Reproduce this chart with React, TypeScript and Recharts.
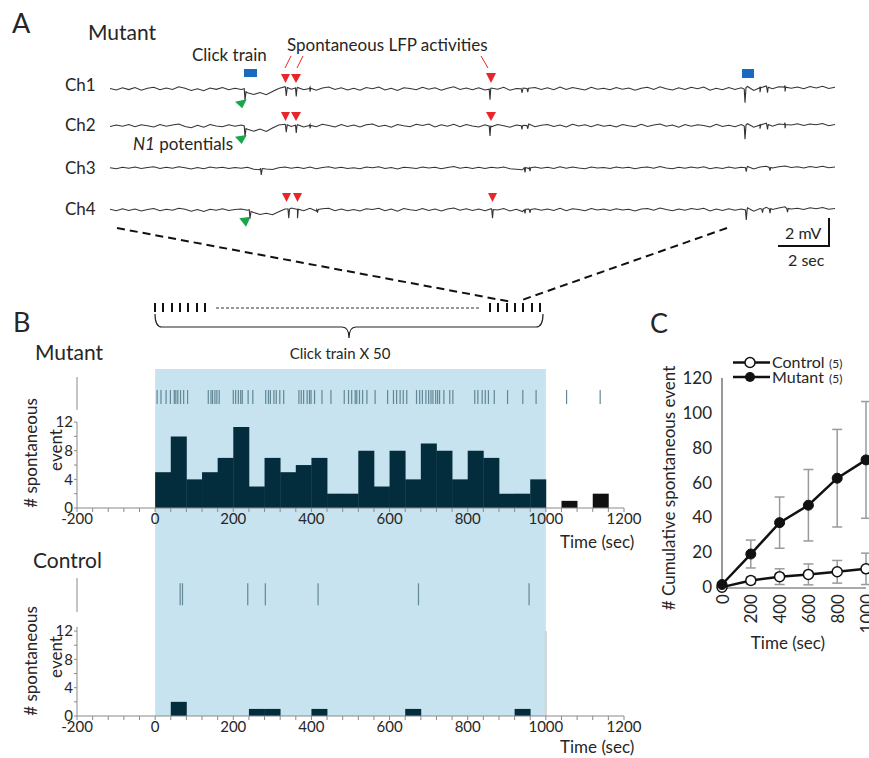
import React from 'react';
import {
  ComposedChart,
  LineChart,
  Line,
  Bar,
  Scatter,
  XAxis,
  YAxis,
  ReferenceArea,
  ReferenceLine,
  ErrorBar,
} from 'recharts';

const FONT = 'Lato, "Open Sans", sans-serif';
const TXT = '#262626';

// ---------------- Panel A : LFP traces (units: 0.01 mV, time in sec) ----------------
const traceStep = 0.25;
const ch1Base = [
  4, -8, 10, -5, 12, -10, 6, 14, -6, 8,
  -4, 18, 6, -12, 2, -14, 8, -3, 12, -6,
  6, -4, -30, -44, -28, -46, -20, 4, 18, -2,
  12, -6, 14, -10, 8, 16, -4, 10, -8, 6,
  -10, 12, 2, 16, -8, 6, -12, 10, 4, -6,
  14, -2, 10, -10, 6, 18, -4, 8, -6, 10,
  -8, 8, -2, 14, -10, 4, -14, 6, 12, -4,
  10, -6, 16, -4, 12, 2, -8, 14, -2, 6,
  -6, 12, -2, 8, -10, 6, 14, -4, 18, 2,
  -8, 10, -4, 14, 2, 16, -10, 6, -6, 12,
  -4, 10, 20, -12, 14, 24, 2, 18, 28, 6,
  16, 2, 20, 8, 22, 4, 14,
];
const ch2Base = [
  -4, 8, -2, 12, -6, 10, 2, -8, 12, -2,
  8, 16, -4, -14, 6, -10, 12, 0, -6, 10,
  -2, 8, -26, -42, -24, -44, -16, 8, 14, -4,
  10, -8, 12, -6, 14, 4, -8, 12, -4, 8,
  -8, 10, 16, -4, 6, -10, 12, 2, -6, 14,
  4, 16, -8, 10, -2, 14, -6, 12, 0, -8,
  10, -6, 12, 2, -10, 8, -4, 16, -6, 6,
  12, -4, 8, -8, 14, 0, 10, -6, 12, -2,
  6, -8, 12, 2, -6, 14, -4, 8, 16, -2,
  8, -10, 12, -2, 10, 4, -8, 14, -4, 6,
  -6, 12, 18, -10, 10, 22, -2, 16, 26, 8,
  18, 4, 16, 10, 20, 2, 12,
];
const ch3Base = [
  2, -6, 6, -2, 8, -4, 4, 10, -4, 6,
  -2, 10, 2, -8, 4, -6, 8, 0, 6, -4,
  4, -2, 6, -10, -14, -8, -12, 2, 8, -2,
  6, -4, 8, -6, 4, 10, -2, 6, -4, 2,
  -6, 8, 2, 10, -4, 4, -8, 6, 2, -4,
  8, 0, 6, -6, 4, 12, -2, 6, -4, 6,
  -4, 6, 0, 8, -6, -10, -14, -4, 8, -2,
  6, -4, 10, -2, 8, 0, -6, 8, 0, 4,
  -4, 8, 0, 6, -6, 4, 8, -2, 12, 0,
  -6, 6, -2, 8, 0, 10, -6, 4, -4, 8,
  -2, 6, 12, -8, 8, 14, 0, 10, 16, 4,
  10, 0, 12, 4, 14, 2, 8,
];
const ch4Base = [
  6, -6, 10, -4, 8, -8, 4, 12, -6, 6,
  -2, 14, 6, -10, 4, -12, 6, -2, 10, -4,
  4, 8, -2, -20, -36, -26, -38, -14, 8, 16,
  6, -6, 14, -8, 10, 14, -6, 8, -6, 4,
  -8, 10, 4, 14, -6, 8, -10, 12, 2, -4,
  12, -4, 8, -8, 8, 16, -2, 10, -4, 8,
  -6, 10, 0, 12, -8, 6, -12, 8, 10, -2,
  8, -4, 14, -6, 10, 4, -6, 12, 0, 8,
  -4, 10, 0, 6, -8, 8, 12, -2, 16, 4,
  -6, 8, -2, 12, 4, 14, -8, 8, -4, 10,
  -2, 8, 18, -10, 12, 22, 4, 16, 26, 8,
  14, 4, 18, 10, 20, 6, 12,
];
const ch1Spikes: [number, number][] = [
  [5.37, 2], [5.4, -90], [5.44, -22],
  [7.02, 10], [7.05, -55], [7.09, 12],
  [7.42, 8], [7.45, -60], [7.48, 6],
  [7.97, 4], [8.0, -22], [8.03, 6],
  [15.17, -2], [15.2, -85], [15.23, 4],
  [16.45, 2], [16.48, -30], [16.52, 8], [16.68, 4], [16.71, -25], [16.74, 6],
  [25.37, 0], [25.4, -110], [25.44, 12],
  [25.97, 8], [26.0, -25], [26.03, 10],
  [26.27, 12], [26.3, -30], [26.33, 14],
  [26.97, 15], [27.0, -20], [27.03, 14],
];
const ch2Spikes: [number, number][] = [
  [5.37, 1], [5.4, -85], [5.44, -20],
  [7.02, 9], [7.05, -50], [7.09, 10],
  [7.42, 6], [7.45, -55], [7.48, 5],
  [7.97, 3], [8.0, -18], [8.03, 5],
  [15.17, -1], [15.2, -80], [15.23, 3],
  [16.45, 2], [16.48, -28], [16.52, 6], [16.68, 3], [16.71, -22], [16.74, 5],
  [25.37, 0], [25.4, -105], [25.44, 10],
  [25.97, 6], [26.0, -22], [26.03, 9],
  [26.27, 10], [26.3, -28], [26.33, 12],
  [26.97, 12], [27.0, -18], [27.03, 12],
];
const ch3Spikes: [number, number][] = [
  [6.02, -2], [6.05, -55], [6.09, -4],
  [16.57, 2], [16.6, -35], [16.63, 4], [16.77, 2], [16.8, -25], [16.83, 3],
  [25.42, 2], [25.45, -30], [25.48, 4],
  [26.37, 4], [26.4, -20], [26.43, 5],
];
const ch4Spikes: [number, number][] = [
  [5.57, 2], [5.6, -70], [5.64, -12],
  [7.12, 8], [7.15, -65], [7.18, 8],
  [7.47, 6], [7.5, -65], [7.53, 6],
  [8.27, 3], [8.3, -20], [8.33, 5],
  [15.27, 2], [15.3, -65], [15.33, 4],
  [16.57, 2], [16.6, -28], [16.63, 6], [16.77, 3], [16.8, -22], [16.83, 5],
  [25.42, 0], [25.45, -80], [25.49, 10],
  [26.07, 6], [26.1, -22], [26.13, 9],
  [26.37, 10], [26.4, -25], [26.43, 12],
  [27.07, 12], [27.1, -18], [27.13, 12],
];

function buildTrace(base: number[], spikes: [number, number][]) {
  const pts = base.map((v, i) => ({ t: i * traceStep, v }));
  spikes.forEach(([t, v]) => pts.push({ t, v }));
  pts.sort((a, b) => a.t - b.t);
  return pts;
}
const traces = [
  { name: 'Ch1', data: buildTrace(ch1Base, ch1Spikes), top: 79 },
  { name: 'Ch2', data: buildTrace(ch2Base, ch2Spikes), top: 116 },
  { name: 'Ch3', data: buildTrace(ch3Base, ch3Spikes), top: 158 },
  { name: 'Ch4', data: buildTrace(ch4Base, ch4Spikes), top: 200 },
];

// ---------------- Panel B : raster + histograms ----------------
const binCenters = [20, 60, 100, 140, 180, 220, 260, 300, 340, 380, 420, 460, 500, 540, 580, 620, 660, 700, 740, 780, 820, 860, 900, 940, 980];
const mutantCounts = [5, 10, 4, 5, 7, 11.3, 3, 7, 5, 6, 7, 2, 2, 8, 3, 8, 4, 9, 8, 4, 8, 7, 2, 2, 4];
const controlCounts = [0, 2, 0, 0, 0, 0, 1, 1, 0, 0, 1, 0, 0, 0, 0, 0, 1, 0, 0, 0, 0, 0, 0, 1, 0];
const postBinCenters = [1060, 1140];
const mutantPostCounts = [1, 2];
const mutantEvents = [5, 15, 28, 39, 49, 53, 58, 65, 73, 83, 136, 143, 147, 153, 158, 164, 200, 206, 213, 219, 223, 238, 250, 283, 290, 295, 304, 310, 319, 329, 368, 374, 380, 389, 395, 399, 408, 427, 450, 484, 495, 503, 512, 516, 523, 531, 542, 563, 595, 610, 618, 627, 635, 644, 669, 677, 684, 693, 700, 706, 711, 718, 723, 728, 739, 754, 762, 818, 826, 837, 845, 853, 868, 902, 941, 975, 1053, 1139];
const controlEvents = [64, 70, 237, 282, 417, 674, 957];
const stimWindow = [0, 1000];
const histXTicks = [-200, -160, -120, -80, -40, 0, 40, 80, 120, 160, 200, 240, 280, 320, 360, 400, 440, 480, 520, 560, 600, 640, 680, 720, 760, 800, 840, 880, 920, 960, 1000, 1040, 1080, 1120, 1160, 1200];
const histYTicks = [0, 2, 4, 6, 8, 10, 12];

const mutantHist = [
  ...binCenters.map((x, i) => ({ x, during: mutantCounts[i], post: 0 })),
  ...postBinCenters.map((x, i) => ({ x, during: 0, post: mutantPostCounts[i] })),
];
const controlHist = binCenters.map((x, i) => ({ x, during: controlCounts[i], post: 0 }));
const mutantRaster = mutantEvents.map((x) => ({ x, y: 15.5 }));
const controlRaster = controlEvents.map((x) => ({ x, y: 17.2 }));
const stimData = [
  { x: stimWindow[0], y: 0 },
  { x: stimWindow[1], y: 1 },
];

// ---------------- Panel C : cumulative ----------------
const cumTimes = [0, 200, 400, 600, 800, 1000];
const controlCum = [0, 3.8, 6, 7.3, 8.8, 10.5];
const controlErr = [0.5, 2, 4.5, 6, 6.5, 9];
const mutantCum = [1.5, 19, 37, 47, 62.5, 73];
const mutantErr = [1, 8, 14.7, 20.5, 28, 33.5];
const cumYTicks = [0, 20, 40, 60, 80, 100, 120];
const cumData = cumTimes.map((t, i) => ({
  t,
  control: controlCum[i],
  controlErr: controlErr[i],
  mutant: mutantCum[i],
  mutantErr: mutantErr[i],
}));

const makeRasterTick = (half: number) => (props: any) => {
  const { cx, cy } = props;
  return <line x1={cx} x2={cx} y1={cy - half} y2={cy + half} stroke="#628796" strokeWidth={1.2} />;
};
const MutRasterTick = makeRasterTick(7);
const CtlRasterTick = makeRasterTick(11);

const RotTick = (props: any) => {
  const { x, y, payload } = props;
  return (
    <text x={x} y={y} transform={`rotate(-90 ${x} ${y})`} textAnchor="end" dominantBaseline="central" fontSize={17} fill={TXT}>
      {payload.value}
    </text>
  );
};

const histTickFmt = (v: number) => (v % 200 === 0 ? String(v) : '');
const yTickFmt = (v: number) => (v % 4 === 0 ? String(v) : '');

function HistChart(props: { data: any[]; raster: any[]; top: number; height: number; marginTop: number; marginBottom: number; yMax: number; shape: any; upperSeg: [number, number]; lowerTop: number; rightLine?: boolean }) {
  const { data, raster, top, height, marginTop, marginBottom, yMax, shape, upperSeg, lowerTop, rightLine } = props;
  return (
    <div style={{ position: 'absolute', left: 0, top }}>
      <ComposedChart width={650} height={height} data={data} margin={{ top: marginTop, right: 26, bottom: marginBottom, left: 47 }} barCategoryGap={0} barGap={0}>
        <XAxis
          type="number"
          dataKey="x"
          domain={[-200, 1200]}
          ticks={histXTicks}
          interval={0}
          tickFormatter={histTickFmt}
          tickSize={4}
          tickMargin={1}
          height={30}
          axisLine={{ stroke: '#8a8a8a' }}
          tickLine={{ stroke: '#8a8a8a' }}
          tick={{ fontSize: 15, fill: TXT }}
          allowDataOverflow
        />
        <XAxis xAxisId="r" type="number" dataKey="x" domain={[-200, 1200]} hide allowDataOverflow />
        <YAxis
          type="number"
          domain={[0, yMax]}
          ticks={histYTicks}
          interval={0}
          tickFormatter={yTickFmt}
          axisLine={false}
          tickSize={3}
          tickMargin={1}
          width={30}
          tickLine={{ stroke: '#8a8a8a' }}
          tick={{ fontSize: 15, fill: TXT }}
          allowDataOverflow
        />
        <ReferenceLine segment={[{ x: -200, y: 0 }, { x: -200, y: lowerTop }]} stroke="#8a8a8a" ifOverflow="visible" />
        <ReferenceLine segment={[{ x: -200, y: upperSeg[0] }, { x: -200, y: upperSeg[1] }]} stroke="#8a8a8a" ifOverflow="visible" />
        {rightLine ? (
          <ReferenceLine segment={[{ x: 1000, y: 0 }, { x: 1000, y: 12 }]} stroke="#d2d2d2" strokeWidth={2} ifOverflow="visible" />
        ) : null}
        <Bar dataKey="during" stackId="h" fill="#032c3c" isAnimationActive={false} />
        <Bar dataKey="post" stackId="h" fill="#111111" isAnimationActive={false} />
        <Scatter xAxisId="r" data={raster} dataKey="y" shape={shape} isAnimationActive={false} />
      </ComposedChart>
    </div>
  );
}

export default function App() {
  return (
    <div style={{ position: 'relative', width: 869, height: 758, overflow: 'hidden', background: '#fff', fontFamily: FONT }}>
      <style>{'body{margin:0}'}</style>

      {/* blue stimulation window behind panel B */}
      <div style={{ position: 'absolute', left: 0, top: 369 }}>
        <ComposedChart width={650} height={347} data={stimData} margin={{ top: 0, right: 26, bottom: 0, left: 77 }}>
          <XAxis type="number" dataKey="x" domain={[-200, 1200]} hide />
          <YAxis type="number" domain={[0, 1]} hide />
          <ReferenceArea x1={stimWindow[0]} x2={stimWindow[1]} y1={0} y2={1} fill="#c6e3ef" fillOpacity={1} stroke="none" ifOverflow="visible" />
          <Line type="linear" dataKey="y" stroke="none" dot={false} isAnimationActive={false} />
        </ComposedChart>
      </div>

      {/* Panel A traces */}
      {traces.map((tr) => (
        <div key={tr.name} style={{ position: 'absolute', left: 110, top: tr.top }}>
          <LineChart width={725} height={30} data={tr.data} margin={{ top: 0, right: 0, bottom: 0, left: 0 }}>
            <XAxis type="number" dataKey="t" domain={[0, 29]} hide />
            <YAxis type="number" domain={[-160, 80]} hide allowDataOverflow />
            <Line type="linear" dataKey="v" stroke="#333" strokeWidth={1.1} dot={false} isAnimationActive={false} />
          </LineChart>
        </div>
      ))}

      {/* Panel B histograms */}
      <HistChart data={mutantHist} raster={mutantRaster} top={360} height={190} marginTop={17} marginBottom={12} yMax={18.3} shape={MutRasterTick} upperSeg={[13.7, 18.3]} lowerTop={12} />
      <HistChart data={controlHist} raster={controlRaster} top={560} height={200} marginTop={18} marginBottom={14} yMax={19.5} shape={CtlRasterTick} upperSeg={[14.7, 19.5]} lowerTop={12.6} rightLine />

      {/* Panel C */}
      <div style={{ position: 'absolute', left: 640, top: 360 }}>
        <LineChart width={229} height={300} data={cumData} margin={{ top: 18, right: 3, bottom: 32, left: 42 }}>
          <XAxis type="number" dataKey="t" domain={[0, 1000]} ticks={cumTimes} interval={0} height={40} tickLine={false} tickSize={0} tickMargin={6} axisLine={{ stroke: '#555', strokeWidth: 1.2 }} tick={<RotTick />} />
          <YAxis type="number" domain={[0, 120]} ticks={cumYTicks} interval={0} width={40} tickLine={false} tickSize={0} tickMargin={10} axisLine={{ stroke: '#555', strokeWidth: 1.2 }} tick={{ fontSize: 17, fill: TXT }} />
          <Line type="linear" dataKey="control" stroke="#111" strokeWidth={2.5} dot={{ r: 5, fill: '#fff', stroke: '#111', strokeWidth: 1.5 }} isAnimationActive={false}>
            <ErrorBar dataKey="controlErr" direction="y" width={5} stroke="#9a9a9a" strokeWidth={1.5} />
          </Line>
          <Line type="linear" dataKey="mutant" stroke="#111" strokeWidth={2.5} dot={{ r: 5, fill: '#111', stroke: '#111', strokeWidth: 1 }} isAnimationActive={false}>
            <ErrorBar dataKey="mutantErr" direction="y" width={5} stroke="#9a9a9a" strokeWidth={1.5} />
          </Line>
        </LineChart>
      </div>

      {/* Annotation overlay */}
      <svg width={869} height={758} style={{ position: 'absolute', left: 0, top: 0, pointerEvents: 'none' }} fontFamily={FONT}>
        {/* Panel A */}
        <text x={12} y={33} fontSize={27} fill={TXT}>A</text>
        <text x={88} y={40} fontSize={21} fill={TXT}>Mutant</text>
        <text x={192} y={61} fontSize={17} fill={TXT}>Click train</text>
        <text x={287} y={51} fontSize={17} fill={TXT}>Spontaneous LFP activities</text>
        <text x={65} y={91} fontSize={17} fill={TXT}>Ch1</text>
        <text x={65} y={131} fontSize={17} fill={TXT}>Ch2</text>
        <text x={65} y={174} fontSize={17} fill={TXT}>Ch3</text>
        <text x={65} y={215} fontSize={17} fill={TXT}>Ch4</text>
        <text x={133} y={150} fontSize={17} fill={TXT}>
          <tspan fontStyle="italic">N1</tspan> potentials
        </text>
        <rect x={244} y={69} width={13} height={8} fill="#1a6bbf" />
        <rect x={742} y={69} width={12} height={9} fill="#1a6bbf" />
        <g stroke="#e8262a" strokeWidth={1}>
          <line x1={291} y1={56} x2={285} y2={68} />
          <line x1={303} y1={56} x2={297} y2={68} />
          <line x1={481} y1={56} x2={488} y2={68} />
        </g>
        <g fill="#e8262a">
          <polygon points="281,74 290,74 285.5,83" />
          <polygon points="291,74 301,74 296,83" />
          <polygon points="486,73 496,73 491,83" />
          <polygon points="281,112 290,112 285.5,121" />
          <polygon points="291,112 301,112 296,121" />
          <polygon points="486,112 496,112 491,121" />
          <polygon points="282,193 291,193 286.5,202" />
          <polygon points="293,193 302,193 297.5,202" />
          <polygon points="488,193 497,193 492.5,202" />
        </g>
        <g fill="#1aa64a">
          <polygon points="235,101.7 246.7,99.3 242.3,108.3" />
          <polygon points="235,136.7 246.7,135 241.7,144" />
          <polygon points="239.3,218.3 250.7,216.7 246,226.7" />
        </g>
        <path d="M778,246 H829 V218" stroke="#111" strokeWidth={2} fill="none" />
        <text x={785} y={239} fontSize={16} fill={TXT}>2 mV</text>
        <text x={788} y={266} fontSize={16} fill={TXT}>2 sec</text>
        <g stroke="#111" strokeWidth={2} strokeDasharray="8 5">
          <line x1={117} y1={228} x2={512} y2={302} />
          <line x1={727} y1={228} x2={522} y2={300} />
        </g>
        {/* click train schematic */}
        <path d="M155,303V312M163,303V312M172,303V312M180,303V312M188,303V312M197,303V312M205,303V312" stroke="#111" strokeWidth={2} />
        <path d="M490,303V312M498,303V312M507,303V312M515,303V312M523,303V312M532,303V312M540,303V312" stroke="#111" strokeWidth={2} />
        <line x1={216} y1={308} x2={480} y2={308} stroke="#333" strokeWidth={1} strokeDasharray="3 2" />
        <path d="M155,314 Q155,327 162,327 H342 Q349,327 349,338 Q349,327 356,327 H536 Q543,327 543,314" stroke="#222" strokeWidth={1.2} fill="none" />
        <text x={340} y={359} fontSize={15} fill={TXT} textAnchor="middle">Click train X 50</text>

        {/* Panel B */}
        <text x={13} y={332} fontSize={27} fill={TXT}>B</text>
        <text x={35} y={360} fontSize={21} fill={TXT}>Mutant</text>
        <text x={33} y={568} fontSize={21} fill={TXT}>Control</text>
        <text transform="rotate(-90 30 453)" x={30} y={453} fontSize={17} fill={TXT} textAnchor="middle" dominantBaseline="central">
          # spontaneous
        </text>
        <text transform="rotate(-90 55 450)" x={55} y={450} fontSize={17} fill={TXT} textAnchor="middle" dominantBaseline="central">
          event
        </text>
        <text transform="rotate(-90 30 661)" x={30} y={661} fontSize={17} fill={TXT} textAnchor="middle" dominantBaseline="central">
          # spontaneous
        </text>
        <text transform="rotate(-90 55 657)" x={55} y={657} fontSize={17} fill={TXT} textAnchor="middle" dominantBaseline="central">
          event
        </text>
        <text x={560} y={548} fontSize={17} fill={TXT}>Time (sec)</text>
        <text x={560} y={753} fontSize={17} fill={TXT}>Time (sec)</text>

        {/* Panel C */}
        <text x={650} y={333} fontSize={27} fill={TXT}>C</text>
        <line x1={733} y1={362.5} x2={770} y2={362.5} stroke="#111" strokeWidth={2.5} />
        <circle cx={750} cy={362.5} r={5} fill="#fff" stroke="#111" strokeWidth={1.5} />
        <text x={772} y={368} fontSize={16} fill={TXT}>Control</text>
        <text x={829} y={368} fontSize={12} fill={TXT}>(5)</text>
        <line x1={733} y1={377} x2={770} y2={377} stroke="#111" strokeWidth={2.5} />
        <circle cx={750} cy={377} r={5} fill="#111" />
        <text x={772} y={382.5} fontSize={16} fill={TXT}>Mutant</text>
        <text x={829} y={382.5} fontSize={12} fill={TXT}>(5)</text>
        <text transform="rotate(-90 668 488)" x={668} y={488} fontSize={17} fill={TXT} textAnchor="middle" dominantBaseline="central">
          # Cumulative spontaneous event
        </text>
        <text x={788} y={649} fontSize={17} fill={TXT} textAnchor="middle">Time (sec)</text>
      </svg>
    </div>
  );
}
